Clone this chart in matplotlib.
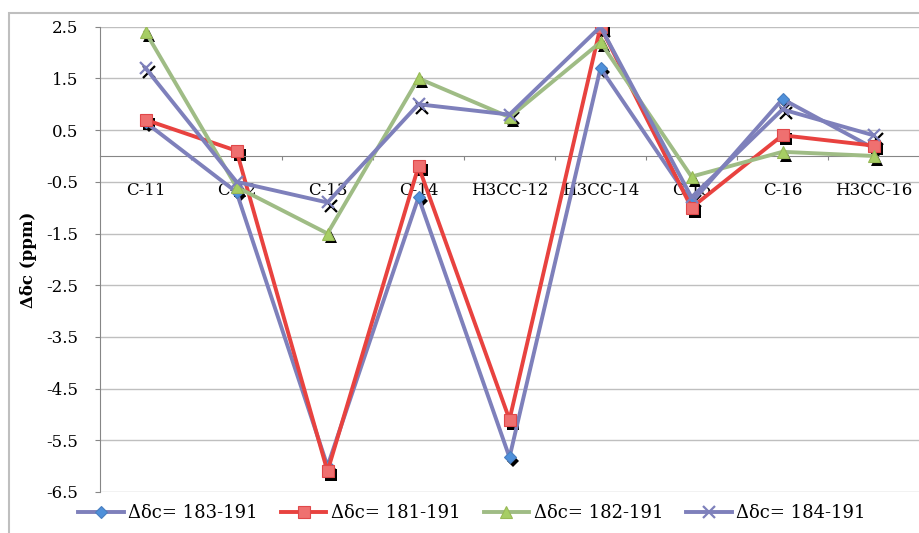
import matplotlib
matplotlib.use('Agg')
import matplotlib.pyplot as plt
from matplotlib.transforms import offset_copy
from matplotlib.patches import Rectangle

plt.rcParams['font.family'] = ['DejaVu Serif']

categories = ['C-11', 'C-12', 'C-13', 'C-14', 'H3CC-12', 'H3CC-14', 'C-15', 'C-16', 'H3CC-16']
d183 = [0.65, -0.7, -6.0, -0.8, -5.83, 1.7, -0.9, 1.1, 0.15]
d181 = [0.7, 0.1, -6.1, -0.2, -5.1, 2.5, -1.0, 0.4, 0.2]
d182 = [2.4, -0.6, -1.5, 1.5, 0.75, 2.2, -0.4, 0.08, 0.0]
d184 = [1.7, -0.5, -0.9, 1.0, 0.8, 2.5, -0.8, 0.9, 0.4]
labels = ['Δδc= 183-191', 'Δδc= 181-191', 'Δδc= 182-191', 'Δδc= 184-191']
yticks = [2.5, 1.5, 0.5, -0.5, -1.5, -2.5, -3.5, -4.5, -5.5, -6.5]

fig = plt.figure(figsize=(9.19, 5.33), dpi=100)
ax = fig.add_axes([100/919, 1-492/533, 819/919, 465.3/533])
x = list(range(len(categories)))

styles = [
    dict(color='#7E80BB', marker='D', ms=6.5, mfc='#4F90DA', mec='#4A7FC0', mew=0.8),
    dict(color='#E8423F', marker='s', ms=8.5, mfc='#EF7070', mec='#E0484A', mew=0.8),
    dict(color='#9FBC85', marker='^', ms=8.5, mfc='#A6CE64', mec='#98B956', mew=0.8),
    dict(color='#7E80BB', marker='x', ms=8.5, mec='#7E80BB', mew=1.6),
]

# marker shadows
shadow = offset_copy(ax.transData, fig=fig, x=2.8, y=-2.8, units='points')
for vals, st in zip([d183, d181, d182, d184], styles):
    ax.plot(x, vals, ls='none', marker=st['marker'], ms=st['ms'], color='black',
            mew=st['mew'] if st['marker'] == 'x' else 0, transform=shadow, zorder=2)

for i, (vals, st) in enumerate(zip([d183, d181, d182, d184], styles)):
    ax.plot(x, vals, lw=2.8, label=labels[i], zorder=3 + i, **st)

ax.set_xlim(-0.5, 8.5)
ax.set_ylim(-6.5, 2.5)
ax.set_yticks(yticks)
ax.set_yticklabels([str(v) for v in yticks])
ax.grid(axis='y', color='#BFBFBF', lw=1)
ax.set_axisbelow(True)

for s in ['top', 'right']:
    ax.spines[s].set_visible(False)
ax.spines['bottom'].set_position(('data', 0))
ax.spines['bottom'].set_color('#868686')
ax.spines['left'].set_color('#868686')

ax.set_xticks([i + 0.5 for i in range(8)])
ax.set_xticklabels([])
ax.set_xticks(x, minor=True)
ax.set_xticklabels(categories, minor=True)
ax.tick_params(axis='x', which='major', direction='out', length=3, color='#868686')
ax.tick_params(axis='x', which='minor', length=0, pad=19, labelsize=12)
ax.tick_params(axis='y', direction='out', length=3.5, color='#868686', pad=12, labelsize=12)

ax.set_ylabel('Δδc (ppm)', fontsize=12, fontweight='bold')
ax.yaxis.set_label_coords(-0.077, 0.5)

leg = fig.legend(loc='center', bbox_to_anchor=(472/919, 1-513/533), ncol=4, fontsize=13,
                 frameon=True, facecolor='white', edgecolor='none', framealpha=1,
                 handlelength=2.5, handletextpad=0.25, columnspacing=1.3,
                 borderpad=0.3)
leg.get_frame().set_linewidth(0)

fig.add_artist(Rectangle((9/919, -0.1), 1.0, 1.1 - 13/533, transform=fig.transFigure,
                         fill=False, edgecolor='#BFBFBF', lw=1.5))

plt.savefig('out.png', dpi=100)
